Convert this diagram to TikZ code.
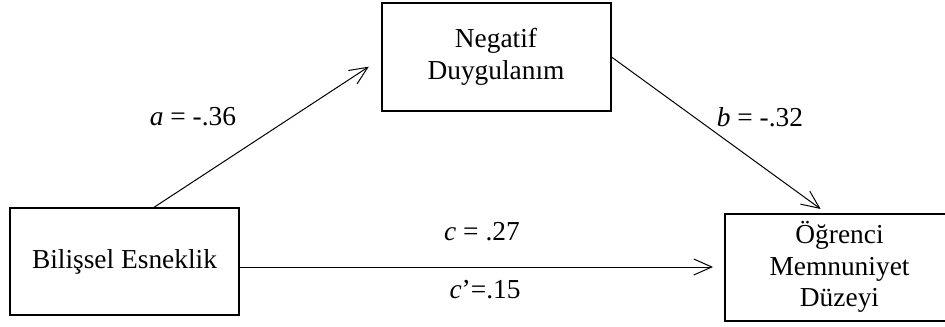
\documentclass[tikz,border=0pt]{standalone}
\usepackage{fontspec}
\setmainfont{Liberation Serif}
\usetikzlibrary{arrows.meta,positioning}
\tikzset{
  box/.style={draw,line width=1pt,minimum width=114.5pt,minimum height=53.5pt,inner sep=0pt,align=center,font=\fontsize{13.7}{15.8}\selectfont},
  arr/.style={-{Straight Barb[length=9pt,width=8pt]},line width=0.5pt},
  lab/.style={font=\fontsize{13.7}{15.8}\selectfont,inner sep=0pt}
}
\begin{document}
\begin{tikzpicture}[x=0.5pt,y=-0.5pt]
  \useasboundingbox (0,0) rectangle (945,326);
  \clip (0,0) rectangle (945,326);
  \node[box] (bil) at (124.5,261.5) {Bilişsel Esneklik};
  \node[box] (neg) at (496,57) {Negatif\\Duygulanım};
  \node[box] (ogr) at (839.5,267) {Öğrenci\\Memnuniyet\\Düzeyi};
  \draw[arr,shorten >=7pt] ([xshift=15pt]bil.north) -- ([yshift=-1pt]neg.west);
  \draw[arr,shorten >=3pt] (neg.east) -- ([xshift=-7pt]ogr.north);
  \draw[arr,shorten >=5.5pt] (bil.east |- ogr.west) -- (ogr.west);
  \node[lab] (la) at (193,117) {\textit{a} = -.36};
  \node[lab] (lb) at (760,117) {\textit{b} = -.32};
  \node[lab] (lc) at (482,232) {\textit{c} = .27};
  \node[lab] (lcp) at (485,290) {\textit{c}’=.15};
\end{tikzpicture}
\end{document}
